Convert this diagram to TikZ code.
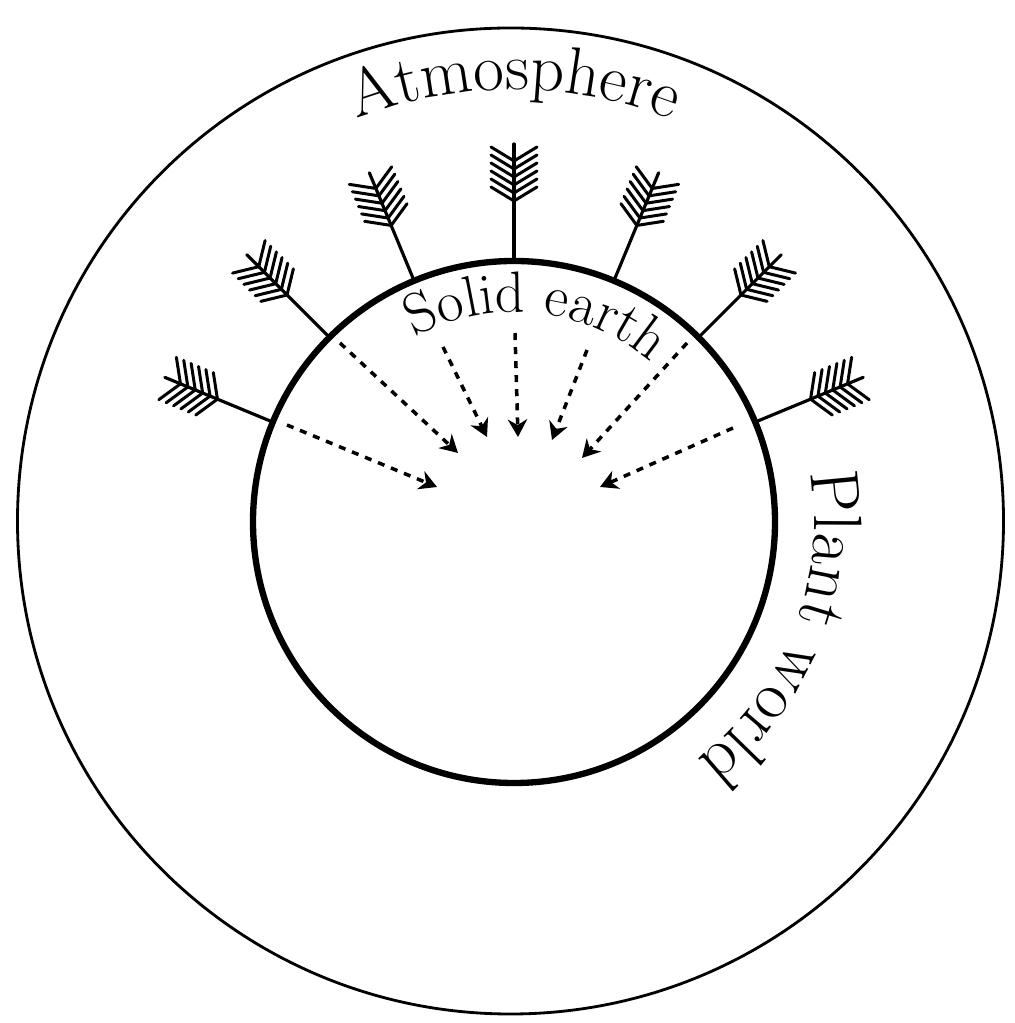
\documentclass[tikz,border=0pt]{standalone}
\usetikzlibrary{
    arrows.meta,
    decorations.text
}

\begin{document}
\begin{tikzpicture}[
    >={Stealth[length=5pt,width=5.5pt,inset=1.6pt]},
    line cap=round,
    line join=round,
    outer ring/.style={line width=0.8pt},
    earth ring/.style={line width=1.8pt},
    shaft/.style={line width=0.9pt},
    barb/.style={line width=0.85pt},
    flow/.style={->, line width=1pt, line cap=butt, dash pattern=on 2pt off 2pt},
    feather arrow/.pic={
        % shaft, from the earth outwards
        \draw[shaft] (0,0) -- (1.17,0);
        % fletching
        \draw[barb]
            (0.60,0) -- ++(0.14,0.23)  (0.60,0) -- ++(0.14,-0.23)
            (0.68,0) -- ++(0.14,0.23)  (0.68,0) -- ++(0.14,-0.23)
            (0.76,0) -- ++(0.14,0.23)  (0.76,0) -- ++(0.14,-0.23)
            (0.84,0) -- ++(0.14,0.23)  (0.84,0) -- ++(0.14,-0.23)
            (0.92,0) -- ++(0.14,0.23)  (0.92,0) -- ++(0.14,-0.23)
            (1.00,0) -- ++(0.14,0.23)  (1.00,0) -- ++(0.14,-0.23);
    }
]

\useasboundingbox (-5.14,-5.01) rectangle (5.00,5.22);

% -------------------------------------------------
% Rings
% -------------------------------------------------

\coordinate (O) at (0,0);
\coordinate (A) at (-0.035,0.01);

% Atmosphere boundary
\draw[outer ring] (A) circle (4.93);

% Solid earth
\draw[earth ring] (O) circle (2.61);

% -------------------------------------------------
% Curved labels
% -------------------------------------------------

\path[decorate, decoration={text along path, text align=center,
        text={|\fontsize{19}{21}\selectfont|Atmosphere}}]
    (135:4.32) arc[start angle=135, end angle=45, radius=4.32];

\path[decorate, decoration={text along path, text align=center,
        text={|\fontsize{16.5}{18}\selectfont|Solid earth}}]
    (150:2.1) arc[start angle=150, end angle=17.4, radius=2.1];

\path[decorate, decoration={text along path, text align=center,
        text={|\fontsize{19.5}{21}\selectfont|Plant world}}]
    (22:3.0) arc[start angle=22, end angle=-65, radius=3.0];

% -------------------------------------------------
% Fletched arrows leaving the earth
% -------------------------------------------------

\pic[rotate=157.5] at (157.5:2.61) {feather arrow};
\pic[rotate=135]   at (135:2.61)   {feather arrow};
\pic[rotate=112.5] at (112.5:2.61) {feather arrow};
\pic[rotate=90]    at (90:2.61)    {feather arrow};
\pic[rotate=67.5]  at (67.5:2.61)  {feather arrow};
\pic[rotate=45]    at (45:2.61)    {feather arrow};
\pic[rotate=22.5]  at (22.5:2.61)  {feather arrow};

% -------------------------------------------------
% Dashed arrows into the earth
% -------------------------------------------------

\coordinate (S1) at (-2.27,0.97);
\coordinate (S2) at (-1.74,1.79);
\coordinate (S3) at (-0.71,1.75);
\coordinate (S4) at (0.01,1.89);
\coordinate (S5) at (0.73,1.72);
\coordinate (S6) at (1.73,1.79);
\coordinate (S7) at (2.19,0.94);

\coordinate (T1) at (-0.77,0.35);
\coordinate (T2) at (-0.56,0.69);
\coordinate (T3) at (-0.27,0.85);
\coordinate (T4) at (0.04,0.85);
\coordinate (T5) at (0.38,0.82);
\coordinate (T6) at (0.68,0.64);
\coordinate (T7) at (0.86,0.35);

\draw[flow] (S1) -- (T1);
\draw[flow] (S2) -- (T2);
\draw[flow] (S3) -- (T3);
\draw[flow] (S4) -- (T4);
\draw[flow] (S5) -- (T5);
\draw[flow] (S6) -- (T6);
\draw[flow] (S7) -- (T7);

\end{tikzpicture}
\end{document}
